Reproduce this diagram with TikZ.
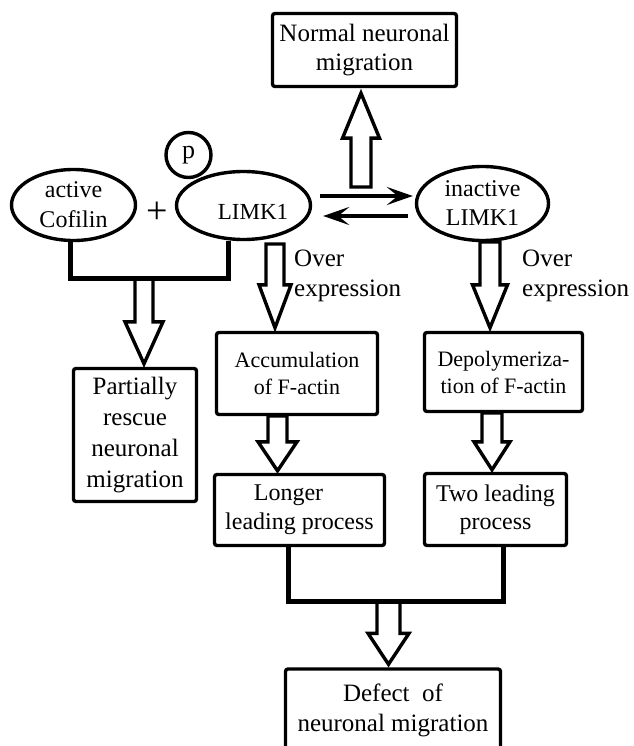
\documentclass[tikz,border=0pt]{standalone}
\usepackage{fontspec}
\setmainfont{Liberation Serif}
\usetikzlibrary{arrows.meta,calc,shapes.geometric}

\newcommand\fs[2]{\fontsize{#1}{#2}\selectfont}

\tikzset{
  box/.style={draw, line width=3.4pt, rounded corners=2.5pt, inner sep=2pt, align=center},
  oval/.style={draw, ellipse, line width=3.4pt, inner sep=0pt, align=center},
  hollow/.style={draw, line width=3.4pt, fill=white, line join=miter, miter limit=4},
  bracket/.style={line width=5pt},
  eqarrow/.style={line width=3.6pt, -{Stealth[length=26pt,width=18pt,inset=11pt]}},
  txt/.style={inner sep=0pt, align=center},
}

% #1 start coordinate, #2 tip coordinate, #3 shaft half width, #4 head half width, #5 signed head length
\newcommand\hollowarrow[5]{%
  \path[hollow] let \p1=(#1), \p2=(#2) in
    ({\x2-#3},\y1) -- ({\x2-#3},{\y2+#5}) -- ({\x2-#4},{\y2+#5}) -- (\x2,\y2)
    -- ({\x2+#4},{\y2+#5}) -- ({\x2+#3},{\y2+#5}) -- ({\x2+#3},\y1) -- cycle;}

\begin{document}
\begin{tikzpicture}[x=1pt,y=-1pt]
  \path[use as bounding box] (0,0) rectangle (633,746);
  \clip (0,0) rectangle (633,746);

  % boxes
  \node[box, minimum width=184pt, minimum height=73pt, font=\fs{25}{29}] (normal) at (364.5,50) {Normal neuronal\\migration};
  \node[box, minimum width=123pt, minimum height=133pt, font=\fs{25}{31}] (partial) at (135,435) {Partially\\rescue\\neuronal\\migration};
  \node[box, minimum width=161pt, minimum height=82pt, font=\fs{22}{27}] (accum) at (297,373.5) {Accumulation\\of F-actin};
  \node[box, minimum width=158pt, minimum height=79pt, font=\fs{22}{27}] (depoly) at (503.5,372) {Depolymeriza-\\tion of F-actin};
  \node[box, minimum width=170pt, minimum height=71pt, font=\fs{24}{29}] (longer) at (299.5,510) {Longer\kern22pt\\leading process};
  \node[box, minimum width=142pt, minimum height=72pt, font=\fs{24}{28}] (two) at (495.5,509.5) {Two leading\\process};
  \node[box, minimum width=215pt, minimum height=83pt, font=\fs{25}{30}] (defect) at (393,710.5) {Defect\ \ of\\neuronal migration};

  % ellipses
  \node[oval, minimum width=124pt, minimum height=71pt, font=\fs{24}{30}] (cof) at (73.5,205) {active\\Cofilin};
  \node[oval, minimum width=134pt, minimum height=68pt] (limk) at (243.5,205.5) {};
  \node[txt, font=\fs{23}{28}] (limkt) at (253,212) {LIMK1};
  \node[oval, minimum width=132pt, minimum height=74pt, font=\fs{24}{29}] (inact) at (482.5,203.5) {inactive\\LIMK1};
  \node[draw, circle, line width=3.4pt, minimum size=45pt, inner sep=0pt, font=\fs{26}{30}] (pc) at (188.5,155) {p};
  \node[txt, font=\fs{38}{40}] (plus) at (157,213) {+};

  % labels
  \node[txt, anchor=west, align=left, font=\fs{25}{30}] (over1) at (294,276) {Over\\expression};
  \node[txt, anchor=west, align=left, font=\fs{25}{30}] (over2) at (522,276) {Over\\expression};

  % equilibrium arrows
  \coordinate (r1) at (320,196);
  \draw[eqarrow] (r1) -- ($(r1 -| inact.west)+(-2,0)$);
  \coordinate (l1) at (408,216);
  \draw[eqarrow] (l1) -- ($(l1 -| limk.east)+(11,0)$);

  % hollow arrows
  \coordinate (upS) at (361,187);
  \hollowarrow{upS}{$(upS |- normal.south)+(0,5)$}{10pt}{18.5pt}{-45pt}
  \coordinate (a2s) at (144,278);
  \hollowarrow{a2s}{$(a2s |- partial.north)+(0,-3)$}{9pt}{19pt}{42pt}
  \coordinate (a3s) at (275,244);
  \hollowarrow{a3s}{$(a3s |- accum.north)+(0,-3)$}{9pt}{16pt}{43pt}
  \coordinate (a4s) at (277.5,416);
  \hollowarrow{a4s}{$(a4s |- longer.north)+(0,-2)$}{9.5pt}{19.5pt}{29pt}
  \coordinate (a5s) at (490,242);
  \hollowarrow{a5s}{$(a5s |- depoly.north)+(0,-3)$}{10pt}{17.5pt}{43pt}
  \coordinate (a6s) at (492,413);
  \hollowarrow{a6s}{$(a6s |- two.north)+(0,-2)$}{10pt}{18pt}{28pt}
  \coordinate (a7s) at (388.5,601);
  \hollowarrow{a7s}{$(a7s |- defect.north)+(0,-3)$}{11.5pt}{20.5pt}{31pt}

  % brackets
  \coordinate (bl) at (70,278);
  \coordinate (br) at (228,278);
  \draw[bracket] (bl |- cof.south) -- (bl) -- (br) -- (br |- limk.south);
  \coordinate (bl2) at (288,601);
  \coordinate (br2) at (503,601);
  \draw[bracket] (bl2 |- longer.south) -- (bl2) -- (br2) -- (br2 |- two.south);
\end{tikzpicture}
\end{document}
